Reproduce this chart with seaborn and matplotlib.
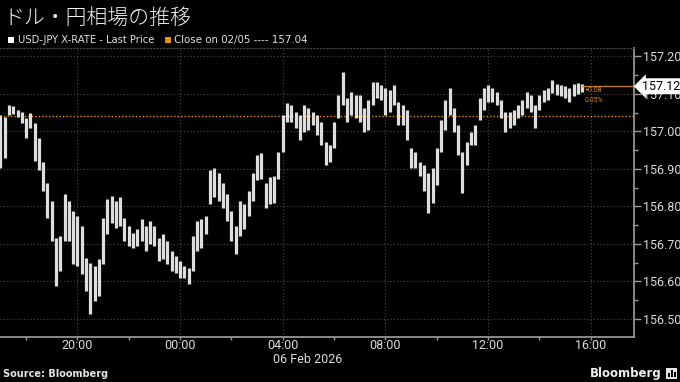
import numpy as np
import pandas as pd
import matplotlib
matplotlib.use("Agg")
import matplotlib.pyplot as plt
import matplotlib.dates as mdates
import matplotlib.ticker as mticker
from matplotlib.patches import Rectangle
import seaborn as sns

# ---------------- data (10-minute high/low bars, USD-JPY) ----------------
bar_high = [157.043, 157.037, 157.070, 157.067, 157.056, 157.051, 157.035, 157.048, 157.021, 156.981,
            156.917, 156.861, 156.815, 156.717, 156.722, 156.834, 156.815, 156.789, 156.775, 156.749,
            156.663, 156.650, 156.642, 156.660, 156.770, 156.821, 156.829, 156.815, 156.824, 156.770,
            156.749, 156.730, 156.741, 156.767, 156.749, 156.762, 156.749, 156.717, 156.727, 156.709,
            156.682, 156.668, 156.655, 156.642, 156.636, 156.722, 156.762, 156.767, 156.775, 156.896,
            156.901, 156.890, 156.861, 156.834, 156.789, 156.749, 156.815, 156.807, 156.842, 156.888,
            156.936, 156.941, 156.861, 156.877, 156.882, 156.944, 157.043, 157.075, 157.070, 157.051,
            157.043, 157.070, 157.062, 157.051, 157.043, 157.024, 156.971, 156.963, 157.024, 157.096,
            157.158, 157.088, 157.104, 157.096, 157.096, 157.062, 157.083, 157.131, 157.131, 157.123,
            157.115, 157.110, 157.123, 157.078, 157.070, 157.056, 156.955, 156.944, 156.917, 156.909,
            156.890, 156.901, 156.955, 157.029, 157.083, 157.115, 157.062, 157.016, 156.944, 156.971,
            156.997, 157.016, 157.088, 157.115, 157.123, 157.115, 157.104, 157.083, 157.051, 157.051,
            157.056, 157.070, 157.083, 157.104, 157.096, 157.070, 157.096, 157.110, 157.115, 157.136,
            157.126, 157.123, 157.120, 157.115, 157.126, 157.128, 157.126]
bar_low = [156.901, 156.930, 157.043, 157.045, 157.037, 157.021, 156.981, 157.008, 156.922, 156.896,
           156.842, 156.770, 156.709, 156.588, 156.628, 156.709, 156.709, 156.647, 156.642, 156.620,
           156.575, 156.513, 156.548, 156.561, 156.647, 156.727, 156.757, 156.743, 156.749, 156.709,
           156.695, 156.690, 156.695, 156.709, 156.682, 156.701, 156.695, 156.655, 156.660, 156.647,
           156.628, 156.623, 156.610, 156.610, 156.594, 156.628, 156.682, 156.690, 156.727, 156.807,
           156.824, 156.815, 156.797, 156.762, 156.709, 156.674, 156.722, 156.741, 156.775, 156.815,
           156.869, 156.874, 156.797, 156.807, 156.810, 156.874, 156.944, 157.024, 157.024, 157.008,
           156.976, 156.997, 157.003, 157.016, 156.989, 156.963, 156.909, 156.917, 156.955, 157.035,
           157.070, 157.024, 157.043, 157.035, 157.024, 156.997, 157.003, 157.070, 157.088, 157.083,
           157.043, 157.051, 157.070, 157.016, 157.016, 156.976, 156.901, 156.901, 156.882, 156.842,
           156.783, 156.810, 156.856, 156.944, 157.003, 157.043, 156.997, 156.936, 156.837, 156.909,
           156.963, 156.963, 157.029, 157.056, 157.078, 157.078, 157.070, 157.035, 156.997, 157.008,
           157.016, 157.035, 157.043, 157.062, 157.051, 157.008, 157.056, 157.078, 157.083, 157.102,
           157.096, 157.094, 157.088, 157.078, 157.094, 157.099, 157.104]
bar_start = "2026-02-05 17:00"
bar_freq = "10min"
last_price = 157.12
prev_close = 157.04
change_text = "+0.08"
change_pct_text = "0.05%"
y_ticks = [156.50, 156.60, 156.70, 156.80, 156.90, 157.00, 157.10, 157.20]
title = "ドル・円相場の推移"
legend_last = "USD-JPY X-RATE - Last Price"
legend_close = "Close on 02/05 ---- 157.04"
date_label = "06 Feb 2026"
source = "Source: Bloomberg"

times = pd.date_range(bar_start, periods=len(bar_high), freq=bar_freq)
df = pd.DataFrame({
    "time": np.concatenate([times, times]),
    "price": np.concatenate([bar_high, bar_low]),
    "bar": np.concatenate([np.arange(len(times)), np.arange(len(times))]),
})

# ---------------- style ----------------
sns.set_theme(style="dark", rc={
    "axes.facecolor": "black", "figure.facecolor": "black",
    "axes.edgecolor": "#9a9a9a", "text.color": "#e0e0e0",
    "xtick.color": "#9a9a9a", "ytick.color": "#9a9a9a",
})
plt.rcParams["font.family"] = ["Roboto", "Noto Sans CJK JP", "DejaVu Sans"]

W, H = 680, 382
fig = plt.figure(figsize=(6.8, 3.82), dpi=100)
fig.patch.set_facecolor("black")
ax_left, ax_right, ax_top, ax_bottom = 0, 634, 48, 337
ax = fig.add_axes([ax_left / W, 1 - ax_bottom / H, (ax_right - ax_left) / W, (ax_bottom - ax_top) / H])
ax.set_facecolor("black")

sns.lineplot(data=df, x="time", y="price", units="bar", estimator=None, sort=False,
             color="#dedede", lw=2.3, ax=ax, legend=False, solid_capstyle="butt")

xmin = pd.Timestamp("2026-02-05 16:59")
xmax = pd.Timestamp("2026-02-06 17:41")
ax.set_xlim(xmin, xmax)
ax.set_ylim(156.452, 157.222)

# reference lines
ax.axhline(prev_close, color="#e8901c", ls=(0, (1, 1.5)), lw=1.0, zorder=1)
ax.hlines(last_price, times[-1], xmax, color="#c07a20", lw=1.0)

# axes/ticks
ax.xaxis.set_major_locator(mdates.HourLocator(byhour=[0, 4, 8, 12, 16, 20]))
ax.xaxis.set_minor_locator(mdates.HourLocator(byhour=range(0, 24, 2)))
ax.xaxis.set_major_formatter(mdates.DateFormatter("%H:%M"))
ax.yaxis.tick_right()
ax.set_yticks(y_ticks)
ax.yaxis.set_major_formatter(mticker.FormatStrFormatter("%.2f"))
ax.yaxis.set_minor_locator(mticker.MultipleLocator(0.05))
ax.tick_params(axis="y", which="major", length=5, width=1, pad=1.5, labelsize=9,
               labelcolor="#dcdcdc", direction="out", right=True, left=False)
ax.tick_params(axis="y", which="minor", length=3, width=1, right=True, left=False)
ax.tick_params(axis="x", which="both", length=2, width=1, pad=-0.5, labelsize=9,
               labelcolor="#dcdcdc", direction="out", bottom=True)
ax.set_xlabel("")
ax.set_ylabel("")

ax.grid(True, which="major", color="#4a4a4a", ls=(0, (1, 2)), lw=0.8)
ax.set_axisbelow(True)
ax.spines["left"].set_visible(False)
ax.spines["top"].set_color("#4a4a4a")
ax.spines["top"].set_linestyle((0, (1, 2)))
ax.spines["top"].set_linewidth(0.8)
ax.spines["right"].set_color("#9a9a9a")
ax.spines["bottom"].set_color("#9a9a9a")

# last price tag
ax.text(1.013, last_price, f"{last_price:.2f}", transform=ax.get_yaxis_transform(),
        ha="left", va="center", fontsize=9, color="black", clip_on=False, zorder=10,
        bbox=dict(boxstyle="larrow,pad=0.12", fc="white", ec="none"))

# change texts
fig.text(585 / W, 1 - 91 / H, change_text, fontsize=5, color="#d08a2a", ha="left", va="center")
fig.text(585 / W, 1 - 100 / H, change_pct_text, fontsize=5, color="#d08a2a", ha="left", va="center")

# title and legend
fig.text(3 / W, 1 - 18 / H, title, fontsize=15, color="#f2f2f2", ha="left", va="center",
         family=["Noto Sans CJK JP", "DejaVu Sans"], weight="light")
fig.patches.append(Rectangle((8 / W, 1 - 43 / H), 6 / W, 6 / H, transform=fig.transFigure,
                             fc="white", ec="none"))
fig.text(18 / W, 1 - 40 / H, legend_last, fontsize=7.2, color="#e0e0e0", ha="left", va="center",
         family="DejaVu Sans")
fig.patches.append(Rectangle((165 / W, 1 - 43 / H), 6 / W, 6 / H, transform=fig.transFigure,
                             fc="#e8901c", ec="none"))
fig.text(174 / W, 1 - 40 / H, legend_close, fontsize=7.4, color="#e0e0e0", ha="left", va="center",
         family="DejaVu Sans")

# date and footer
fig.text(308 / W, 1 - 359.5 / H, date_label, fontsize=9, color="#dcdcdc", ha="center", va="center")
fig.text(3 / W, 1 - 374 / H, source, fontsize=7, color="#e6e6e6", ha="left", va="center",
         weight="bold", family="DejaVu Sans")
fig.text(662 / W, 1 - 373 / H, "Bloomberg", fontsize=8.5, color="#f0f0f0", ha="right", va="center",
         weight="bold", family="DejaVu Sans")
fig.patches.append(Rectangle((666 / W, 1 - 379 / H), 11 / W, 11 / H, transform=fig.transFigure,
                             fc="#e6e6e6", ec="none"))
for dx, hh in [(668, 4), (671, 7), (674, 5)]:
    fig.patches.append(Rectangle((dx / W, 1 - 377 / H), 1.6 / W, hh / H, transform=fig.transFigure,
                                 fc="black", ec="none"))

fig.savefig("out.png", dpi=100, facecolor="black")
